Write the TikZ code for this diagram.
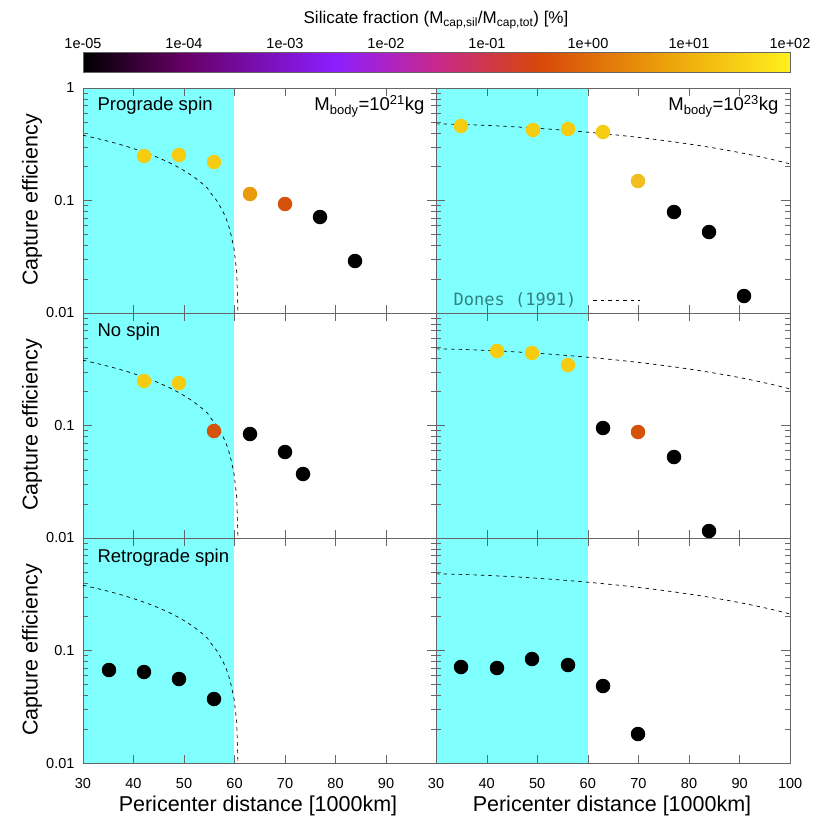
\documentclass[tikz,border=0pt]{standalone}
\usepackage{fontspec}
\setmainfont{Liberation Sans}
\setmonofont{DejaVu Sans Mono}
\begin{document}
\begin{tikzpicture}[x=1pt,y=-1pt,
  dot/.style={circle,inner sep=0pt,minimum size=14.5pt,fill=#1},
  ax/.style={gray!80!black,line width=0.6pt},
  tk/.style={gray!80!black,line width=0.5pt},
  lab/.style={font=\fontsize{14.5}{16}\selectfont},
  big/.style={font=\fontsize{21.5}{24}\selectfont},
  pan/.style={font=\fontsize{18.5}{21}\selectfont},
  dsh/.style={dash pattern=on 3.5pt off 4pt,line width=0.7pt}]
\definecolor{cy}{HTML}{80FFFF}
\definecolor{cyel}{HTML}{F5CC10}
\definecolor{cora}{HTML}{E89A0A}
\definecolor{cred}{HTML}{D4520A}
\definecolor{cyel2}{HTML}{F0BE20}
\useasboundingbox (0,0) rectangle (830,830);
% colorbar
\node[font=\fontsize{17}{19}\selectfont] (ctitle) at (436,20) {Silicate fraction (M$_{\mbox{\fontsize{12}{13}\selectfont cap,sil}}$/M$_{\mbox{\fontsize{12}{13}\selectfont cap,tot}}$) [\%]};
\fill[left color=black,right color=violet!80!black] (83,52) rectangle (184,72);
\fill[left color=violet!80!black,right color={rgb,255:red,140;green,30;blue,255}] (184,52) rectangle (335,72);
\fill[left color={rgb,255:red,140;green,30;blue,255},right color={rgb,255:red,200;green,40;blue,140}] (335,52) rectangle (436,72);
\fill[left color={rgb,255:red,200;green,40;blue,140},right color={rgb,255:red,215;green,70;blue,10}] (436,52) rectangle (537,72);
\fill[left color={rgb,255:red,215;green,70;blue,10},right color={rgb,255:red,235;green,160;blue,10}] (537,52) rectangle (663,72);
\fill[left color={rgb,255:red,235;green,160;blue,10},right color={rgb,255:red,255;green,240;blue,30}] (663,52) rectangle (790,72);
\draw[ax] (83,52) rectangle (790,72);
\foreach \l [count=\i from 0] in {1e-05,1e-04,1e-03,1e-02,1e-01,1e+00,1e+01,1e+02}
  \node[lab] (cb\i) at ({83+101*\i},44) {\l};
% cyan regions
\fill[cy] (83,88) rectangle (234,763);
\fill[cy] (436,88) rectangle (588,763);
% ticks
\foreach \r in {88,313,538}{
  \foreach \d in {0,112.5}{
    \foreach \m in {2,...,9}{
      \draw[tk] (83,{\r+\d+112.5*(1-ln(\m)/ln(10))}) -- ++(5,0);
      \draw[tk] (790,{\r+\d+112.5*(1-ln(\m)/ln(10))}) -- ++(-5,0);
      \draw[tk] (436,{\r+\d+112.5*(1-ln(\m)/ln(10))}) -- ++(5,0);
      \draw[tk] (436,{\r+\d+112.5*(1-ln(\m)/ln(10))}) -- ++(-5,0);}
    \draw[tk] (83,\r+\d) -- ++(9,0);
    \draw[tk] (790,\r+\d) -- ++(-9,0);
    \draw[tk] (427,\r+\d) -- ++(18,0);}
  \foreach \k in {1,...,13}{
    \draw[tk] ({83+50.5*\k},\r) -- ++(0,8);
    \draw[tk] ({83+50.5*\k},\r+225) -- ++(0,-8);}
}
% frames
\draw[ax] (83,88) rectangle (790,763);
\draw[ax] (436,88) -- (436,763);
\draw[ax] (83,313) -- (790,313);
\draw[ax] (83,538) -- (790,538);
% dashed curves
\foreach \r in {88,313,538}{
  \begin{scope}
  \clip (83,\r) rectangle (790,\r+225);
  \draw[dsh] plot[domain=30:60.95,samples=60]
    ({83+5.05*(\x-30)},{\r-112.5*ln(0.38*(1-(\x-30)/31)^0.7)/ln(10)});
  \draw[dsh] plot[domain=30:100,samples=40]
    ({436+5.06*(\x-30)},{\r-112.5*ln(0.48*(1-0.56*((\x-30)/70)^1.5))/ln(10)});
  \end{scope}
}
% y labels
\foreach \r [count=\i] in {88,313,538}{
  \node[big,rotate=90] (yl\i) at (32,\r+112) {Capture efficiency};
  \node[lab,anchor=east] (ya\i) at (78,\r+112.5) {0.1};
  \node[lab,anchor=east] (yb\i) at (78,\r+225) {0.01};}
\node[lab,anchor=east] (y1) at (78,88) {1};
% x labels
\foreach \v [count=\i from 0] in {30,40,50,60,70,80,90}
  \node[lab] (xl\i) at ({83+50.5*\i},783) {\v};
\foreach \v [count=\i from 0] in {30,40,50,60,70,80,90,100}
  \node[lab] (xr\i) at ({436+50.6*\i},783) {\v};
\node[big] (xt1) at (258,806) {Pericenter distance [1000km]};
\node[big] (xt2) at (612,806) {Pericenter distance [1000km]};
% panel labels
\node[pan,anchor=west] (p1) at (94,106) {Prograde spin};
\node[pan,anchor=west] (p2) at (94,332) {No spin};
\node[pan,anchor=west] (p3) at (94,558) {Retrograde spin};
\node[pan,anchor=east] (m1) at (428,106) {M$_{\mbox{\fontsize{13}{14}\selectfont body}}$=10$^{\mbox{\fontsize{13}{14}\selectfont 21}}$kg};
\node[pan,anchor=east] (m2) at (782,106) {M$_{\mbox{\fontsize{13}{14}\selectfont body}}$=10$^{\mbox{\fontsize{13}{14}\selectfont 23}}$kg};
\node[font=\ttfamily\fontsize{17}{19}\selectfont,text=teal!60!gray,anchor=east] (dones) at (580,300) {Dones (1991)};
\coordinate (dl1) at (593,300); \coordinate (dl2) at (640,300);
\draw[dsh] (dl1) -- (dl2);
% dots
\foreach \x/\y/\c [count=\n] in {144/156/cyel,179/155/cyel,214/162/cyel,250/194/cora,285/204/cred,320/217/black,355/261/black,
 461/126/cyel,533/130/cyel,568/129/cyel,603/132/cyel,638/181/cyel2,674/212/black,709/232/black,744/296/black,
 144/381/cyel,179/383/cyel,214/431/cred,250/434/black,285/452/black,303/474/black,
 497/351/cyel,532/353/cyel,568/365/cyel,603/428/black,638/432/cred,674/457/black,709/531/black,
 109/670/black,144/672/black,179/679/black,214/699/black,
 461/667/black,497/668/black,532/659/black,568/665/black,603/686/black,638/734/black}
  \node[dot=\c] (d\n) at (\x,\y) {};
\end{tikzpicture}
\end{document}
